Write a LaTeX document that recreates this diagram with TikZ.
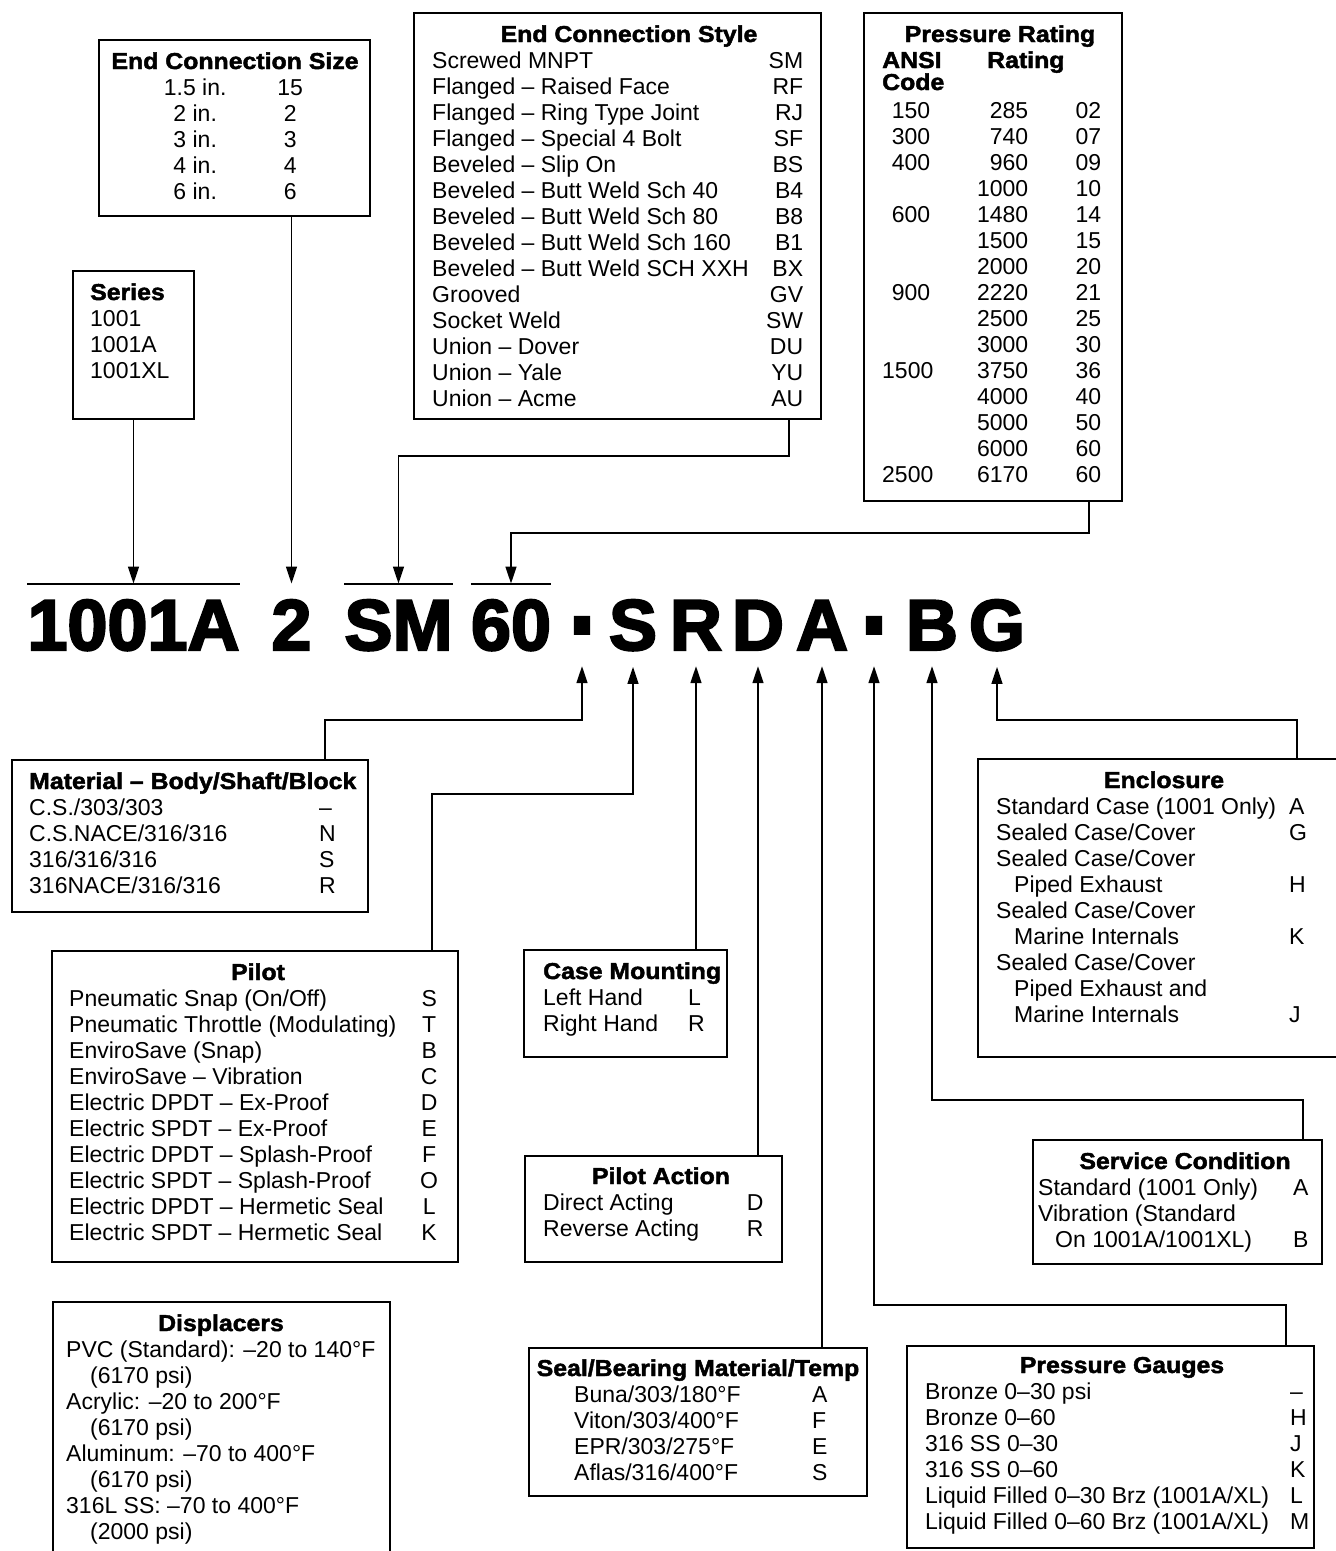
\documentclass[tikz,border=0pt]{standalone}
\usepackage{fontspec}
\setmainfont{Liberation Sans}
\newfontfamily\headfont{Liberation Sans Bold}[FakeStretch=1.08,FakeBold=2]
\newfontfamily\codefont{Liberation Sans Bold}[FakeBold=3]
\usepackage{array}
\usepackage{graphicx}
\usetikzlibrary{arrows.meta,positioning,calc}
\setlength{\tabcolsep}{0pt}
\newcolumntype{C}[1]{>{\centering\arraybackslash}p{#1}}
\newcolumntype{R}[1]{>{\raggedleft\arraybackslash}p{#1}}
\newcommand{\codedash}{\raisebox{-8pt}[0pt][0pt]{\scalebox{0.8}[1.75]{-}}}
\tikzset{
  codebox/.style={rectangle,draw=black,line width=2.4pt,inner sep=0,outer sep=0,anchor=north west},
  boxhead/.style={font=\headfont\fontsize{23}{26}\selectfont,inner sep=0,anchor=base},
  boxrows/.style={font=\fontsize{23}{26}\selectfont,inner sep=0,anchor=base west},
  codechar/.style={font=\codefont\fontsize{72}{80}\selectfont,inner xsep=0,inner ysep=16pt,anchor=base},
  arr/.style={-{Triangle[width=11pt,length=17pt]},line width=1.5pt},
  overbar/.style={line width=2pt}
}

\begin{document}
\begin{tikzpicture}[x=1pt,y=-1pt]
  \useasboundingbox (0,0) rectangle (1336,1551);

  %% Model code
  \node[codechar] (c1001A) at (133.5,650) {1001A};
  \node[codechar] (c2) at (291.5,650) {2};
  \node[codechar] (cSM) at (398.5,650) {SM};
  \node[codechar] (c60) at (511,650) {60};
  \node[codechar] (cdashA) at (582,650) {\codedash};
  \node[codechar] (cS) at (633,650) {S};
  \node[codechar] (cR) at (696,650) {R};
  \node[codechar] (cD) at (758,650) {D};
  \node[codechar] (cA) at (822,650) {A};
  \node[codechar] (cdashB) at (874,650) {\codedash};
  \node[codechar] (cB) at (932,650) {B};
  \node[codechar] (cG) at (997,650) {G};
  \draw[overbar] (c1001A.north west) -- (c1001A.north east);
  \draw[overbar] (cSM.north west) -- (cSM.north east);
  \draw[overbar] (c60.north west) -- (c60.north east);

  %% Boxes above the code
  \node[codebox,minimum width=271pt,minimum height=176pt] (size) at (99,40) {};
  \node[boxhead] (sizehead) at (235,69) {End Connection Size};
  \node[boxrows] (sizerows) at (155,95) {\begin{tabular}[t]{@{}C{80pt}@{\hspace{15pt}}C{80pt}@{}}
    1.5 in. & 15\\ 2 in. & 2\\ 3 in. & 3\\ 4 in. & 4\\ 6 in. & 6
  \end{tabular}};

  \node[codebox,minimum width=121pt,minimum height=148pt] (series) at (73,271) {};
  \node[boxhead,anchor=base west] (serieshead) at (90,300) {Series};
  \node[boxrows] (seriesrows) at (90,326) {\begin{tabular}[t]{@{}l@{}}
    1001\\ 1001A\\ 1001XL
  \end{tabular}};

  \node[codebox,minimum width=407pt,minimum height=406pt] (style) at (414,13) {};
  \node[boxhead] (stylehead) at (629,42) {End Connection Style};
  \node[boxrows] (stylerows) at (432,68) {\begin{tabular}[t]{@{}p{330pt}R{41pt}@{}}
    Screwed MNPT & SM\\
    Flanged – Raised Face & RF\\
    Flanged – Ring Type Joint & RJ\\
    Flanged – Special 4 Bolt & SF\\
    Beveled – Slip On & BS\\
    Beveled – Butt Weld Sch 40 & B4\\
    Beveled – Butt Weld Sch 80 & B8\\
    Beveled – Butt Weld Sch 160 & B1\\
    Beveled – Butt Weld SCH XXH & BX\\
    Grooved & GV\\
    Socket Weld & SW\\
    Union – Dover & DU\\
    Union – Yale & YU\\
    Union – Acme & AU
  \end{tabular}};

  \node[codebox,minimum width=258pt,minimum height=488pt] (prating) at (864,13) {};
  \node[boxhead] (pratinghead) at (1000,42) {Pressure Rating};
  \node[boxhead,anchor=base west] (ansihead) at (882,68) {ANSI};
  \node[boxhead,anchor=base west] (codehead) at (882,90) {Code};
  \node[boxhead,anchor=base west] (ratinghead) at (987,68) {Rating};
  \node[boxrows] (pratingrows) at (882,118) {\begin{tabular}[t]{@{}R{48pt}R{98pt}R{73pt}@{}}
    150 & 285 & 02\\
    300 & 740 & 07\\
    400 & 960 & 09\\
        & 1000 & 10\\
    600 & 1480 & 14\\
        & 1500 & 15\\
        & 2000 & 20\\
    900 & 2220 & 21\\
        & 2500 & 25\\
        & 3000 & 30\\
    1500 & 3750 & 36\\
        & 4000 & 40\\
        & 5000 & 50\\
        & 6000 & 60\\
    2500 & 6170 & 60
  \end{tabular}};

  %% Boxes below the code
  \node[codebox,minimum width=356pt,minimum height=152pt] (material) at (12,760) {};
  \node[boxhead,anchor=base west] (materialhead) at (29,789) {Material – Body/Shaft/Block};
  \node[boxrows] (materialrows) at (29,815) {\begin{tabular}[t]{@{}p{290pt}l@{}}
    C.S./303/303 & –\\
    C.S.NACE/316/316 & N\\
    316/316/316 & S\\
    316NACE/316/316 & R
  \end{tabular}};

  \node[codebox,minimum width=406pt,minimum height=311pt] (pilot) at (52,951) {};
  \node[boxhead] (pilothead) at (258,980) {Pilot};
  \node[boxrows] (pilotrows) at (69,1006) {\begin{tabular}[t]{@{}p{350pt}C{20pt}@{}}
    Pneumatic Snap (On/Off) & S\\
    Pneumatic Throttle (Modulating) & T\\
    EnviroSave (Snap) & B\\
    EnviroSave – Vibration & C\\
    Electric DPDT – Ex-Proof & D\\
    Electric SPDT – Ex-Proof & E\\
    Electric DPDT – Splash-Proof & F\\
    Electric SPDT – Splash-Proof & O\\
    Electric DPDT – Hermetic Seal & L\\
    Electric SPDT – Hermetic Seal & K
  \end{tabular}};

  \node[codebox,minimum width=203pt,minimum height=107pt] (casemount) at (524,950) {};
  \node[boxhead,anchor=base west] (casemounthead) at (543,979) {Case Mounting};
  \node[boxrows] (casemountrows) at (543,1005) {\begin{tabular}[t]{@{}p{145pt}l@{}}
    Left Hand & L\\
    Right Hand & R
  \end{tabular}};

  \node[codebox,minimum width=257pt,minimum height=106pt] (pilotact) at (525,1156) {};
  \node[boxhead] (pilotacthead) at (661,1184) {Pilot Action};
  \node[boxrows] (pilotactrows) at (543,1210) {\begin{tabular}[t]{@{}p{202pt}C{20pt}@{}}
    Direct Acting & D\\
    Reverse Acting & R
  \end{tabular}};

  \node[codebox,minimum width=338pt,minimum height=148pt] (seal) at (529,1348) {};
  \node[boxhead] (sealhead) at (698,1376) {Seal/Bearing Material/Temp};
  \node[boxrows] (sealrows) at (574,1402) {\begin{tabular}[t]{@{}p{238pt}l@{}}
    Buna/303/180°F & A\\
    Viton/303/400°F & F\\
    EPR/303/275°F & E\\
    Aflas/316/400°F & S
  \end{tabular}};

  \node[codebox,minimum width=337pt,minimum height=280pt] (displacers) at (53,1302) {};
  \node[boxhead] (displacershead) at (221,1331) {Displacers};
  \node[boxrows] (displacersrows) at (66,1357) {\begin{tabular}[t]{@{}l@{}}
    PVC (Standard): –20 to 140°F\\
    \hspace*{24pt}(6170 psi)\\
    Acrylic: –20 to 200°F\\
    \hspace*{24pt}(6170 psi)\\
    Aluminum: –70 to 400°F\\
    \hspace*{24pt}(6170 psi)\\
    316L SS: –70 to 400°F\\
    \hspace*{24pt}(2000 psi)
  \end{tabular}};

  \node[codebox,minimum width=362pt,minimum height=298pt] (enclosure) at (978,759) {};
  \node[boxhead] (enclosurehead) at (1164,788) {Enclosure};
  \node[boxrows] (enclosurerows) at (996,814) {\begin{tabular}[t]{@{}p{293pt}l@{}}
    Standard Case (1001 Only) & A\\
    Sealed Case/Cover & G\\
    Sealed Case/Cover & \\
    \hspace*{18pt}Piped Exhaust & H\\
    Sealed Case/Cover & \\
    \hspace*{18pt}Marine Internals & K\\
    Sealed Case/Cover & \\
    \hspace*{18pt}Piped Exhaust and & \\
    \hspace*{18pt}Marine Internals & J
  \end{tabular}};

  \node[codebox,minimum width=289pt,minimum height=124pt] (service) at (1033,1140) {};
  \node[boxhead] (servicehead) at (1185,1169) {Service Condition};
  \node[boxrows] (servicerows) at (1038,1195) {\begin{tabular}[t]{@{}p{255pt}l@{}}
    Standard (1001 Only) & A\\
    Vibration (Standard & \\
    \hspace*{17pt}On 1001A/1001XL) & B
  \end{tabular}};

  \node[codebox,minimum width=407pt,minimum height=202pt] (gauges) at (907,1346) {};
  \node[boxhead] (gaugeshead) at (1122,1373) {Pressure Gauges};
  \node[boxrows] (gaugesrows) at (925,1399) {\begin{tabular}[t]{@{}p{365pt}l@{}}
    Bronze 0–30 psi & –\\
    Bronze 0–60 & H\\
    316 SS 0–30 & J\\
    316 SS 0–60 & K\\
    Liquid Filled 0–30 Brz (1001A/XL) & L\\
    Liquid Filled 0–60 Brz (1001A/XL) & M
  \end{tabular}};

  %% Arrows into the code
  \draw[arr] (c1001A.north |- series.south) -- (c1001A.north);
  \draw[arr] (c2.north |- size.south) -- (c2.north);
  \draw[arr] ([xshift=-32pt]style.south east) -- ++(0,37) -| (cSM.north);
  \draw[arr] ([xshift=-33pt]prating.south east) -- ++(0,32) -| (c60.north);
  \draw[arr] ([xshift=-43pt]material.north east) -- ++(0,-40) -| (cdashA.south);
  \draw[arr] ([xshift=-26pt]pilot.north east) -- ++(0,-157) -| (cS.south);
  \draw[arr] (cR.south |- casemount.north) -- (cR.south);
  \draw[arr] (cD.south |- pilotact.north) -- (cD.south);
  \draw[arr] (cA.south |- seal.north) -- (cA.south);
  \draw[arr] ([xshift=-28pt]gauges.north east) -- ++(0,-41) -| (cdashB.south);
  \draw[arr] ([xshift=-19pt]service.north east) -- ++(0,-40) -| (cB.south);
  \draw[arr] ([xshift=-43pt]enclosure.north east) -- ++(0,-39) -| (cG.south);
\end{tikzpicture}
\end{document}
